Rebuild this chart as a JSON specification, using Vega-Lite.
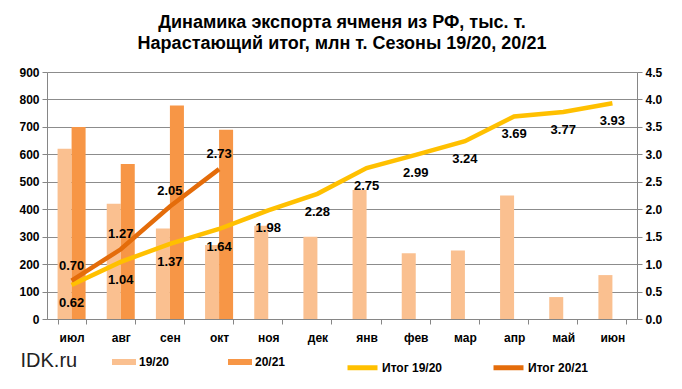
{
  "$schema": "https://vega.github.io/schema/vega-lite/v6.json",
  "width": 590,
  "height": 247,
  "autosize": {"type": "none"},
  "padding": {"left": 47, "top": 72, "right": 45, "bottom": 70},
  "background": "white",
  "title": {
    "text": ["Динамика экспорта ячменя из РФ, тыс. т.", "Нарастающий итог, млн т. Сезоны 19/20, 20/21"],
    "font": "Liberation Sans Narrow, Liberation Sans, sans-serif",
    "fontSize": 18,
    "fontWeight": "bold",
    "color": "black",
    "anchor": "middle",
    "lineHeight": 21,
    "offset": 13
  },
  "datasets": {
    "bars": [
      {"month": "июл", "season": "19/20", "value": 620},
      {"month": "авг", "season": "19/20", "value": 420},
      {"month": "сен", "season": "19/20", "value": 330},
      {"month": "окт", "season": "19/20", "value": 270},
      {"month": "ноя", "season": "19/20", "value": 340},
      {"month": "дек", "season": "19/20", "value": 300},
      {"month": "янв", "season": "19/20", "value": 470},
      {"month": "фев", "season": "19/20", "value": 240},
      {"month": "мар", "season": "19/20", "value": 250},
      {"month": "апр", "season": "19/20", "value": 450},
      {"month": "май", "season": "19/20", "value": 80},
      {"month": "июн", "season": "19/20", "value": 160},
      {"month": "июл", "season": "20/21", "value": 700},
      {"month": "авг", "season": "20/21", "value": 565},
      {"month": "сен", "season": "20/21", "value": 778},
      {"month": "окт", "season": "20/21", "value": 690}
    ],
    "totals": [
      {"month": "июл", "series": "Итог 19/20", "total": 0.62},
      {"month": "авг", "series": "Итог 19/20", "total": 1.04},
      {"month": "сен", "series": "Итог 19/20", "total": 1.37},
      {"month": "окт", "series": "Итог 19/20", "total": 1.64},
      {"month": "ноя", "series": "Итог 19/20", "total": 1.98},
      {"month": "дек", "series": "Итог 19/20", "total": 2.28},
      {"month": "янв", "series": "Итог 19/20", "total": 2.75},
      {"month": "фев", "series": "Итог 19/20", "total": 2.99},
      {"month": "мар", "series": "Итог 19/20", "total": 3.24},
      {"month": "апр", "series": "Итог 19/20", "total": 3.69},
      {"month": "май", "series": "Итог 19/20", "total": 3.77},
      {"month": "июн", "series": "Итог 19/20", "total": 3.93},
      {"month": "июл", "series": "Итог 20/21", "total": 0.70},
      {"month": "авг", "series": "Итог 20/21", "total": 1.27},
      {"month": "сен", "series": "Итог 20/21", "total": 2.05},
      {"month": "окт", "series": "Итог 20/21", "total": 2.73}
    ]
  },
  "config": {
    "view": {"stroke": null},
    "font": "Liberation Sans",
    "legend": {"labelFont": "Liberation Sans Narrow, Liberation Sans, sans-serif", "labelFontSize": 12, "labelFontWeight": "bold", "labelColor": "black"}
  },
  "layer": [
    {
      "data": {"name": "bars"},
      "mark": {"type": "bar"},
      "encoding": {
        "x": {
          "field": "month", "type": "nominal",
          "sort": ["июл","авг","сен","окт","ноя","дек","янв","фев","мар","апр","май","июн"],
          "scale": {"paddingInner": 0.43, "paddingOuter": 0.215},
          "axis": {
            "title": "IDK.ru", "titleX": -27, "titleY": 41, "titleAlign": "left", "titleAnchor": "start",
            "titleBaseline": "middle", "titleFontSize": 20, "titleFontWeight": "normal", "titleColor": "#222222",
            "labelAngle": 0, "labelFontWeight": "bold", "labelFontSize": 12, "labelColor": "black", "labelPadding": 8,
            "tickBand": "extent", "tickSize": 5, "tickColor": "#868686", "domainColor": "#868686", "grid": false
          }
        },
        "xOffset": {"field": "season", "type": "nominal", "scale": {"paddingInner": 0, "paddingOuter": 0}},
        "y": {
          "field": "value", "type": "quantitative",
          "scale": {"domain": [0, 900]},
          "axis": {
            "title": null, "values": [0,100,200,300,400,500,600,700,800,900],
            "labelFontWeight": "bold", "labelFontSize": 12, "labelColor": "black", "labelPadding": 3,
            "grid": true, "gridColor": "#8c8c8c", "domainColor": "#868686", "tickColor": "#868686", "tickSize": 5
          }
        },
        "color": {
          "field": "season", "type": "nominal",
          "scale": {"domain": ["19/20", "20/21"], "range": ["#FAC090", "#F79646"]},
          "legend": {
            "title": null, "orient": "none", "direction": "horizontal", "legendX": 65, "legendY": 278,
            "symbolType": "M-1,-0.25H1V0.25H-1Z", "symbolSize": 576, "symbolStrokeWidth": 0, "columnPadding": 58, "labelOffset": 3
          }
        }
      }
    },
    {
      "data": {"name": "totals"},
      "mark": {"type": "line", "strokeWidth": 4.5},
      "encoding": {
        "x": {"field": "month", "type": "nominal", "sort": ["июл","авг","сен","окт","ноя","дек","янв","фев","мар","апр","май","июн"]},
        "y": {
          "field": "total", "type": "quantitative",
          "scale": {"domain": [0, 4.5]},
          "axis": {
            "orient": "right", "title": null, "values": [0,0.5,1,1.5,2,2.5,3,3.5,4,4.5], "format": ".1f",
            "labelFontWeight": "bold", "labelFontSize": 12, "labelColor": "black", "labelPadding": 3,
            "grid": false, "domainColor": "#868686", "tickColor": "#868686", "tickSize": 5
          }
        },
        "stroke": {
          "field": "series", "type": "nominal",
          "scale": {"domain": ["Итог 19/20", "Итог 20/21"], "range": ["#FFC000", "#E46C0A"]},
          "legend": {
            "title": null, "orient": "none", "direction": "horizontal", "legendX": 298, "legendY": 278,
            "symbolType": "stroke", "symbolSize": 900, "symbolStrokeWidth": 5, "columnPadding": 40, "labelOffset": 2
          }
        }
      }
    },
    {
      "data": {"name": "totals"},
      "transform": [{"filter": "datum.series === 'Итог 19/20'"}],
      "mark": {"type": "text", "fontWeight": "bold", "fontSize": 13, "dy": 18, "color": "black", "font": "Liberation Sans Narrow, Liberation Sans, sans-serif"},
      "encoding": {
        "x": {"field": "month", "type": "nominal", "sort": ["июл","авг","сен","окт","ноя","дек","янв","фев","мар","апр","май","июн"]},
        "y": {"field": "total", "type": "quantitative", "scale": {"domain": [0, 4.5]}, "axis": null},
        "text": {"field": "total", "type": "quantitative", "format": ".2f"}
      }
    },
    {
      "data": {"name": "totals"},
      "transform": [{"filter": "datum.series === 'Итог 20/21'"}],
      "mark": {"type": "text", "fontWeight": "bold", "fontSize": 13, "dy": -15, "color": "black", "font": "Liberation Sans Narrow, Liberation Sans, sans-serif"},
      "encoding": {
        "x": {"field": "month", "type": "nominal", "sort": ["июл","авг","сен","окт","ноя","дек","янв","фев","мар","апр","май","июн"]},
        "y": {"field": "total", "type": "quantitative", "scale": {"domain": [0, 4.5]}, "axis": null},
        "text": {"field": "total", "type": "quantitative", "format": ".2f"}
      }
    }
  ],
  "resolve": {"scale": {"y": "independent"}}
}
